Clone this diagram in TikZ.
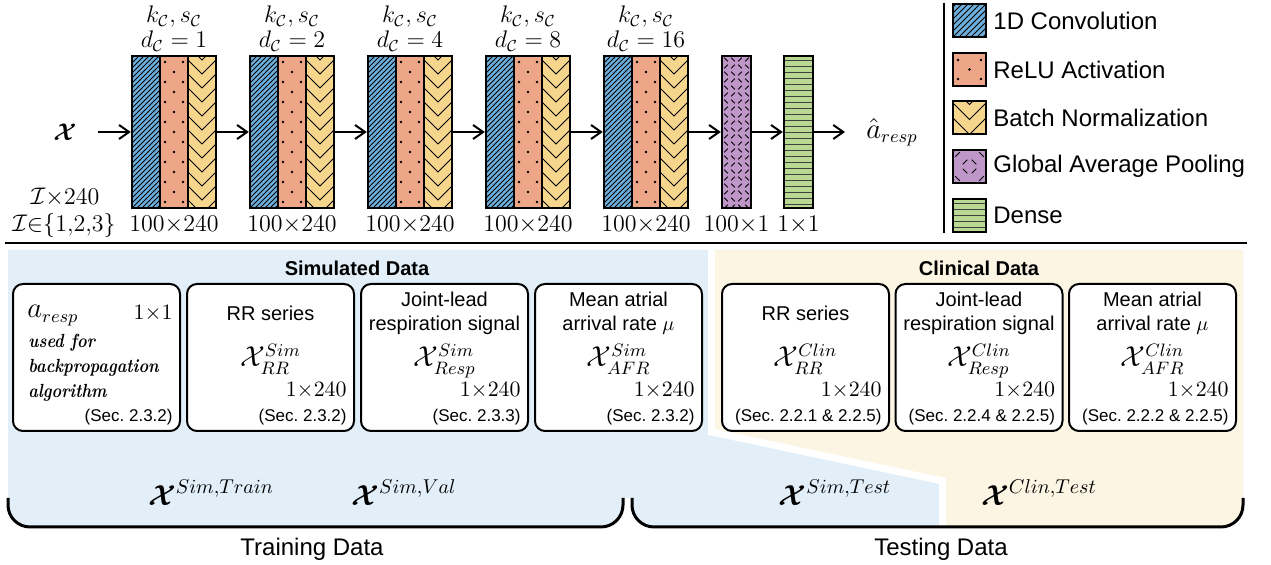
\documentclass[tikz,border=0pt]{standalone}
\usepackage{amsmath}
\usepackage{amssymb}
\usepackage{bm}
\usepackage{fontspec}
\setsansfont{Liberation Sans}
\usepackage{tikz}
\usetikzlibrary{arrows.meta, positioning, calc}
\usepackage{xcolor}
\definecolor{convblue}{HTML}{6CAEDC}
\definecolor{reluorange}{HTML}{EDA688}
\definecolor{bnyellow}{HTML}{F6D68C}
\definecolor{gappurple}{HTML}{BE96C8}
\definecolor{densegreen}{HTML}{B9D891}
\definecolor{simbg}{HTML}{E2EFF8}
\definecolor{clinbg}{HTML}{FCF5E4}

\begin{document}
\begin{tikzpicture}[
    x=0.5pt, y=-0.5pt,
    arr/.style={-{Straight Barb[length=5pt,width=7pt]}, line width=1pt},
    blk/.style={draw, line width=1.2pt, inner sep=0pt, minimum width=42pt, minimum height=76pt},
    slim/.style={blk, minimum width=14.5pt},
    swatch/.style={draw, line width=1.2pt, inner sep=0pt, minimum width=16.5pt, minimum height=16.5pt},
    hatch/.style={line width=0.4pt},
    chev/.style={line width=0.5pt},
    gapdash/.style={line width=0.45pt, dash pattern=on 2.5pt off 2.45pt, dash phase=3.725pt},
    gapdashbig/.style={line width=0.45pt, dash pattern=on 3.2pt off 3.16pt, dash phase=4.78pt},
    dmath/.style={font=\fontsize{12}{14}\selectfont, inner sep=0pt, anchor=base},
    legtxt/.style={font=\sffamily\fontsize{12}{14}\selectfont, anchor=west, inner sep=2pt},
    databox/.style={draw, line width=1pt, rounded corners=5pt, fill=white, inner sep=0pt,
                    minimum width=83.5pt, minimum height=73.5pt},
    ttl/.style={font=\sffamily\fontsize{10}{12}\selectfont, align=center, inner sep=0pt},
    sym/.style={font=\fontsize{13.5}{16}\selectfont, inner sep=0pt, anchor=base},
    dim/.style={font=\fontsize{11}{13}\selectfont, inner sep=0pt, anchor=base east},
    sec/.style={font=\sffamily\fontsize{8.5}{10}\selectfont, inner sep=0pt, anchor=base east},
    note/.style={font=\bfseries\itshape\fontsize{9.5}{11}\selectfont, inner sep=2pt, anchor=base west},
    head/.style={font=\sffamily\bfseries\fontsize{10}{12}\selectfont},
    setlbl/.style={font=\fontsize{14.4}{17}\selectfont, inner sep=0pt, anchor=base},
    grp/.style={font=\sffamily\fontsize{12}{14}\selectfont, inner sep=0pt, anchor=base},
    brace/.style={line width=1.5pt, rounded corners=11pt}]

  \useasboundingbox (0,0) rectangle (1271,565);

  % ---- conv blocks ----
  \foreach \i/\dil in {1/1,2/2,3/4,4/8,5/16} {
    \pgfmathsetmacro{\xl}{132+118*(\i-1)}
    \fill[convblue]   (\xl,56)    rectangle ++(28,152);
    \fill[reluorange] (\xl+28,56) rectangle ++(28,152);
    \fill[bnyellow]   (\xl+56,56) rectangle ++(28,152);
    \begin{scope}
      \clip (\xl,56) rectangle ++(28,152);
      \foreach \t in {0,5,...,185}
        \draw[hatch] (\xl-155+\t,208) -- ++(160,-160);
    \end{scope}
    \begin{scope}
      \clip (\xl+28,56) rectangle ++(28,152);
      \foreach \k in {0,...,7} {
        \fill (\xl+33,62+20*\k) circle (0.65pt);
        \fill (\xl+51,62+20*\k) circle (0.65pt);
        \fill (\xl+42,72+20*\k) circle (0.65pt);
      }
    \end{scope}
    \begin{scope}
      \clip (\xl+56,56) rectangle ++(28,152);
      \foreach \k in {0,...,11}
        \draw[chev] (\xl+56,46+14*\k) -- ++(14,14) -- ++(14,-14);
    \end{scope}
    \draw[line width=1pt] (\xl+28,56) -- ++(0,152) (\xl+56,56) -- ++(0,152);
    \node[blk] (c\i) at (\xl+42,132) {};
    \node[dmath] (ks\i) at (\xl+42,23) {$k_{\mathcal{C}}, s_{\mathcal{C}}$};
    \node[dmath] (dl\i) at (\xl+42,48) {$d_{\mathcal{C}}=\dil$};
    \node[dmath] (sz\i) at (\xl+42,232) {$100{\times}240$};
  }

  % ---- pooling and dense ----
  \fill[gappurple] (722,56) rectangle (751,208);
  \begin{scope}
    \clip (722,56) rectangle (751,208);
    \foreach \cx/\dy in {736.5/0,722.5/7,750.5/7}
      \foreach \k in {0,...,11}
        \draw[gapdash] (\cx-7,56+\dy+14*\k) -- ++(7,-7) -- ++(7,7) -- ++(-7,7) -- cycle;
  \end{scope}
  \node[slim] (gp) at (736.5,132) {};
  \fill[densegreen] (784,56) rectangle (813,208);
  \foreach \yy in {61,67,...,205}
    \draw[line width=0.5pt, black!75] (784,\yy) -- (813,\yy);
  \node[slim] (dn) at (798.5,132) {};
  \node[dmath] (szgp) at (736.5,232) {$100{\times}1$};
  \node[dmath] (szdn) at (798.5,232) {$1{\times}1$};

  \node[font=\fontsize{12}{14}\selectfont, inner sep=2pt] (in) at (65,132) {$\bm{\mathcal{X}}$};
  \node[dmath] (isz) at (65,205) {$\mathcal{I}{\times}240$};
  \node[dmath] (iset) at (64,232) {$\mathcal{I}{\in}\{1{,}2{,}3\}$};
  \node[font=\fontsize{13.5}{16}\selectfont, inner sep=2pt] (out) at (892,132) {$\hat{a}_{resp}$};

  \draw[arr, shorten <=8.5pt] (in) -- (c1);
  \foreach \a/\b in {c1/c2,c2/c3,c3/c4,c4/c5,c5/gp,gp/dn}
    \draw[arr] (\a) -- (\b);
  \draw[arr, shorten >=8.5pt] (dn) -- (out);

  % ---- legend ----
  \draw[line width=1pt] (944,3) -- (944,233);
  \fill[convblue] (953,4) rectangle (986,37);
  \begin{scope}
    \clip (953,4) rectangle (986,37);
    \foreach \t in {0,6,...,72}
      \draw[hatch] (953-36+\t,37) -- ++(40,-40);
  \end{scope}
  \node[swatch] (lg1) at (969.5,20.5) {};
  \fill[reluorange] (953,53) rectangle (986,86);
  \foreach \p in {(958,60),(981,60),(969.5,69.5),(958,79),(981,79)}
    \fill \p circle (0.65pt);
  \node[swatch] (lg2) at (969.5,69.5) {};
  \fill[bnyellow] (953,101) rectangle (986,134);
  \begin{scope}
    \clip (953,101) rectangle (986,134);
    \foreach \v in {-13,2,17}
      \draw[chev] (953,101+\v) -- ++(16.5,16.5) -- ++(16.5,-16.5);
  \end{scope}
  \node[swatch] (lg3) at (969.5,117.5) {};
  \fill[gappurple] (953,150) rectangle (986,183);
  \begin{scope}
    \clip (953,150) rectangle (986,183);
    \foreach \cx/\cy in {969.5/166.5,953/150,986/150,953/183,986/183}
      \draw[gapdashbig] (\cx-9,\cy) -- ++(9,-9) -- ++(9,9) -- ++(-9,9) -- cycle;
  \end{scope}
  \node[swatch] (lg4) at (969.5,166.5) {};
  \fill[densegreen] (953,199) rectangle (986,232);
  \foreach \yy in {204,210,...,228}
    \draw[line width=0.5pt, black!75] (953,\yy) -- (986,\yy);
  \node[swatch] (lg5) at (969.5,215.5) {};

  \node[legtxt] (lt1) at (989,20.5)  {1D Convolution};
  \node[legtxt] (lt2) at (989,69.5)  {ReLU Activation};
  \node[legtxt] (lt3) at (989,117.5) {Batch Normalization};
  \node[legtxt] (lt4) at (989,166.5) {Global Average Pooling};
  \node[legtxt] (lt5) at (989,215.5) {Dense};

  \draw[line width=1pt] (5,243) -- (1247,243);

  % ---- data panel backgrounds ----
  \begin{scope}
    \clip (8,250) -- (1243,250) -- (1243,505) .. controls (1243,517) and (1233,527) .. (1221,527)
      -- (654,527) .. controls (642,527) and (632,517) .. (632,505) -- (632,498) -- (623,498)
      -- (623,505) .. controls (623,517) and (613,527) .. (601,527)
      -- (30,527) .. controls (18,527) and (8,517) .. (8,505) -- cycle;
    \fill[simbg] (0,240) rectangle (1271,540);
    \fill[clinbg] (715,240) -- (1271,240) -- (1271,540) -- (946,540) -- (946,483) -- (715,434) -- cycle;
    \draw[white, line width=3.5pt] (711.5,240) -- (711.5,432) -- (942.5,481) -- (942.5,540);
  \end{scope}

  \node[head] (simh)  at (357,268) {Simulated Data};
  \node[head] (clinh) at (979,268) {Clinical Data};

  % ---- data boxes ----
  \node[databox] (sb1) at (96.5,357.5) {};
  \node[sym, anchor=base west, inner sep=2pt] (ar) at (23,318) {$a_{resp}$};
  \node[dim] (arsz) at (173,320) {$1{\times}1$};
  \foreach \j/\w in {0/used for,1/backpropagation,2/algorithm}
    \node[note] (nt\j) at (24,348+25*\j) {\scalebox{0.86}[1]{\w}};
  \node[sec] (sb1-s) at (173,422) {(Sec.\ 2.3.2)};

  \foreach \nm/\xl/\ttext/\up/\dn/\secno in {
      sb2/187/{RR series}/Sim/RR/{2.3.2},
      sb3/361/{Joint-lead\\respiration signal}/Sim/Resp/{2.3.3},
      sb4/535/{Mean atrial\\arrival rate $\mu$}/Sim/AFR/{2.3.2},
      cb1/722/{RR series}/Clin/RR/{2.2.1 \& 2.2.5},
      cb2/895.5/{Joint-lead\\respiration signal}/Clin/Resp/{2.2.4 \& 2.2.5},
      cb3/1069/{Mean atrial\\arrival rate $\mu$}/Clin/AFR/{2.2.2 \& 2.2.5}} {
    \node[databox] (\nm) at (\xl+83.5,357.5) {};
    \node[ttl] (\nm-t) at (\xl+83.5,313) {\ttext};
    \node[sym] (\nm-x) at (\xl+83.5,367) {$\mathcal{X}_{\dn}^{\up}$};
    \node[dim] (\nm-d) at (\xl+160,397) {$1{\times}240$};
    \node[sec] (\nm-s) at (\xl+160,422) {(Sec.\ \secno)};
  }

  % ---- train / test split ----
  \draw[brace] (8,498) -- (8,527) -- (623,527) -- (623,498);
  \draw[brace] (632,498) -- (632,527) -- (1243,527) -- (1243,498);
  \node[setlbl] (xtr) at (211,506)  {$\bm{\mathcal{X}}^{Sim,Train}$};
  \node[setlbl] (xva) at (404,506)  {$\bm{\mathcal{X}}^{Sim,Val}$};
  \node[setlbl] (xts) at (835,506)  {$\bm{\mathcal{X}}^{Sim,Test}$};
  \node[setlbl] (xct) at (1039,506) {$\bm{\mathcal{X}}^{Clin,Test}$};
  \node[grp] (trn) at (312,556) {Training Data};
  \node[grp] (tst) at (941,556) {Testing Data};
\end{tikzpicture}
\end{document}
